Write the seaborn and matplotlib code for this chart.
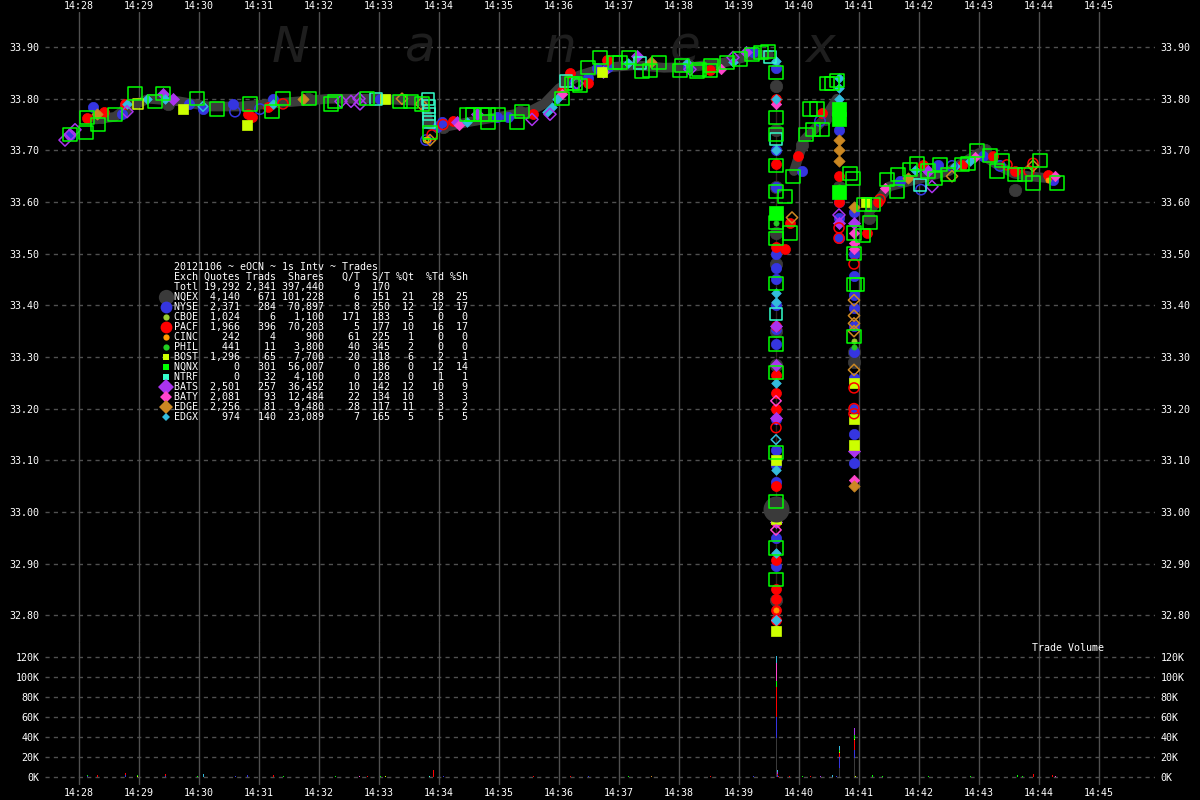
import matplotlib
matplotlib.use("Agg")
import matplotlib.pyplot as plt
import pandas as pd
import seaborn as sns

# ---------------------------------------------------------------- axis data
minute_labels = ["14:28", "14:29", "14:30", "14:31", "14:32", "14:33", "14:34", "14:35", "14:36",
                 "14:37", "14:38", "14:39", "14:40", "14:41", "14:42", "14:43", "14:44", "14:45"]
price_ticks = [32.80, 32.90, 33.00, 33.10, 33.20, 33.30, 33.40, 33.50, 33.60, 33.70, 33.80, 33.90]
volume_ticks = [0, 20000, 40000, 60000, 80000, 100000, 120000]
volume_labels = ["0K", "20K", "40K", "60K", "80K", "100K", "120K"]

# ---------------------------------------------------------------- summary table
table_title = "20121106 ~ eOCN ~ 1s Intv ~ Trades"
exch_names = ["NQEX", "NYSE", "CBOE", "PACF", "CINC", "PHIL", "BOST",
              "NQNX", "NTRF", "BATS", "BATY", "EDGE", "EDGX"]
quotes = [4140, 2371, 1024, 1966, 242, 441, 1296, 0, 0, 2501, 2081, 2256, 974]
trads = [671, 284, 6, 396, 4, 11, 65, 301, 32, 257, 93, 81, 140]
shares = [101228, 70897, 1100, 70203, 900, 3800, 7700, 56007, 4100, 36452, 12484, 9480, 23089]
q_per_t = [6, 8, 171, 5, 61, 40, 20, 0, 0, 10, 22, 28, 7]
s_per_t = [151, 250, 183, 177, 225, 345, 118, 186, 128, 142, 134, 117, 165]
pct_qt = [21, 12, 5, 10, 1, 2, 6, 0, 0, 12, 10, 11, 5]
pct_td = [28, 12, 0, 16, 0, 0, 2, 12, 1, 10, 3, 3, 5]
pct_sh = [25, 17, 0, 17, 0, 0, 1, 14, 1, 9, 3, 2, 5]
total = ("Totl", 19292, 2341, 397440, 9, 170)

# ---------------------------------------------------------------- trades ("MM:SS" of hour 14, price)
nqex = [("28:23", 33.765), ("28:46", 33.78), ("29:29", 33.79), ("31:11", 33.79), ("31:49", 33.80),
        ("34:04", 33.745), ("35:21", 33.775), ("36:07", 33.836), ("38:09", 33.865), ("39:37", 33.825),
        ("39:37", 33.74), ("39:37", 33.63), ("39:37", 33.54), ("39:37", 33.48), ("39:37", 33.35),
        ("39:37", 33.285), ("39:37", 32.83), ("40:03", 33.71), ("40:26", 33.76), ("40:40", 33.63),
        ("40:55", 33.31), ("40:55", 33.29), ("41:10", 33.57), ("43:06", 33.70), ("43:36", 33.624)]
nqex_block = [("39:37", 33.005)]
nyse = [("27:51", 33.73), ("28:14", 33.785), ("28:43", 33.77), ("29:50", 33.79), ("30:04", 33.78),
        ("30:34", 33.79), ("31:14", 33.80), ("33:01", 33.80), ("33:58", 33.745), ("34:03", 33.755),
        ("34:58", 33.765), ("35:09", 33.765), ("36:29", 33.84), ("36:38", 33.86), ("36:49", 33.862),
        ("38:09", 33.862), ("39:14", 33.89), ("39:37", 33.86), ("39:37", 33.70), ("39:37", 33.63),
        ("39:37", 33.58), ("39:37", 33.50), ("39:37", 33.472), ("39:37", 33.45), ("39:37", 33.40),
        ("39:37", 33.354), ("39:37", 33.325), ("39:37", 33.18), ("39:37", 33.12), ("39:37", 33.09),
        ("39:37", 33.057), ("39:37", 32.95), ("39:37", 32.895), ("40:03", 33.66), ("40:40", 33.74),
        ("40:40", 33.60), ("40:40", 33.57), ("40:40", 33.53), ("40:55", 33.58), ("40:55", 33.50),
        ("40:55", 33.456), ("40:55", 33.42), ("40:55", 33.395), ("40:55", 33.36), ("40:55", 33.31),
        ("40:55", 33.26), ("40:55", 33.20), ("40:55", 33.15), ("40:55", 33.095), ("41:41", 33.64),
        ("42:19", 33.672), ("43:04", 33.69), ("44:14", 33.643)]
nyse_open = [("30:36", 33.775), ("31:01", 33.78), ("33:47", 33.72), ("36:16", 33.83), ("40:21", 33.757),
             ("42:02", 33.624), ("42:33", 33.67), ("43:21", 33.67)]
pacf = [("28:08", 33.763), ("28:25", 33.774), ("28:46", 33.79), ("30:49", 33.77), ("30:53", 33.765),
        ("31:09", 33.785), ("34:14", 33.757), ("35:34", 33.77), ("36:03", 33.815), ("36:11", 33.85),
        ("36:29", 33.83), ("36:48", 33.875), ("38:31", 33.855), ("39:37", 33.80), ("39:37", 33.674),
        ("39:37", 33.579), ("39:37", 33.513), ("39:37", 33.36), ("39:37", 33.266), ("39:37", 33.23),
        ("39:37", 33.20), ("39:37", 33.05), ("39:37", 32.98), ("39:37", 32.906), ("39:37", 32.85),
        ("39:37", 32.832), ("39:37", 32.81), ("39:37", 32.79), ("39:46", 33.51), ("39:51", 33.56),
        ("39:59", 33.69), ("40:23", 33.772), ("40:40", 33.65), ("40:40", 33.60), ("41:08", 33.54),
        ("41:19", 33.60), ("42:04", 33.672), ("42:43", 33.672), ("43:14", 33.69), ("43:36", 33.66),
        ("44:09", 33.653)]
pacf_open = [("31:24", 33.79), ("33:53", 33.73), ("34:04", 33.75), ("39:37", 33.163), ("40:40", 33.55),
             ("40:40", 33.53), ("40:55", 33.48), ("40:55", 33.24), ("40:55", 33.20), ("40:55", 33.19),
             ("41:21", 33.605), ("43:28", 33.672), ("43:50", 33.66), ("43:54", 33.675)]
cboe = [("39:37", 33.10), ("39:37", 32.775), ("40:55", 33.33)]
cboe_open = [("33:47", 33.72)]
cinc = [("39:37", 32.81), ("44:09", 33.643)]
cinc_open = [("33:49", 33.72)]
phil = [("39:37", 33.56), ("40:40", 33.63), ("40:55", 33.32)]
bost = [("29:44", 33.78), ("30:48", 33.75), ("33:06", 33.80), ("36:43", 33.852), ("39:37", 33.10),
        ("39:37", 32.987), ("39:37", 32.77), ("40:55", 33.25), ("40:55", 33.18), ("40:55", 33.13),
        ("41:07", 33.60)]
bost_open = [("28:59", 33.79)]
nqnx = [("39:37", 33.579), ("40:40", 33.78), ("40:40", 33.76), ("40:40", 33.62)]
nqnx_open = [("27:51", 33.73), ("28:07", 33.735), ("28:08", 33.763), ("28:19", 33.75), ("28:36", 33.77),
             ("28:56", 33.81), ("29:16", 33.795), ("29:24", 33.81), ("29:58", 33.80), ("30:18", 33.78),
             ("30:51", 33.79), ("31:13", 33.775), ("31:24", 33.80), ("31:50", 33.80), ("32:12", 33.79),
             ("32:16", 33.795), ("32:48", 33.80), ("33:21", 33.795), ("33:32", 33.795), ("33:43", 33.79),
             ("33:51", 33.735), ("34:28", 33.77), ("34:34", 33.77), ("34:43", 33.77), ("34:49", 33.77),
             ("34:59", 33.77), ("34:49", 33.755), ("35:18", 33.755), ("35:23", 33.775), ("36:03", 33.80),
             ("36:13", 33.83), ("36:16", 33.83), ("36:21", 33.825), ("36:29", 33.86), ("36:41", 33.88),
             ("36:56", 33.87), ("37:01", 33.87), ("37:10", 33.88), ("37:23", 33.852), ("37:31", 33.855),
             ("37:40", 33.87), ("38:01", 33.855), ("38:03", 33.865), ("38:18", 33.852), ("38:20", 33.857),
             ("38:31", 33.855), ("38:32", 33.865), ("38:48", 33.87), ("39:01", 33.877), ("39:13", 33.885),
             ("39:22", 33.89), ("39:29", 33.892), ("39:37", 33.851), ("39:37", 33.763), ("39:37", 33.73),
             ("39:37", 33.67), ("39:37", 33.62), ("39:37", 33.56), ("39:37", 33.53), ("39:37", 33.443),
             ("39:37", 33.325), ("39:37", 33.27), ("39:37", 33.115), ("39:37", 33.02), ("39:37", 32.93),
             ("39:37", 32.869), ("39:46", 33.61), ("39:51", 33.54), ("39:54", 33.65), ("40:07", 33.73),
             ("40:11", 33.78), ("40:14", 33.74), ("40:18", 33.78), ("40:23", 33.74), ("40:28", 33.83),
             ("40:33", 33.83), ("40:38", 33.835), ("40:51", 33.655), ("40:54", 33.645), ("40:55", 33.54),
             ("40:55", 33.50), ("40:55", 33.44), ("40:55", 33.34), ("40:58", 33.44), ("41:04", 33.535),
             ("41:05", 33.595), ("41:11", 33.56), ("41:14", 33.595), ("41:28", 33.643), ("41:38", 33.62),
             ("41:39", 33.653), ("41:51", 33.663), ("41:58", 33.675), ("42:09", 33.66), ("42:16", 33.646),
             ("42:21", 33.672), ("42:29", 33.653), ("42:43", 33.672), ("42:49", 33.675), ("42:58", 33.70),
             ("43:11", 33.69), ("43:18", 33.66), ("43:23", 33.68), ("43:36", 33.653), ("43:46", 33.653),
             ("43:54", 33.637), ("44:01", 33.68), ("44:18", 33.637)]
ntrf_open = [("32:57", 33.80), ("33:49", 33.80), ("33:50", 33.785), ("33:50", 33.77), ("33:50", 33.755),
             ("36:07", 33.835), ("37:21", 33.87), ("39:31", 33.88), ("39:37", 33.722), ("39:37", 33.384),
             ("42:01", 33.633)]
bats = [("29:24", 33.81), ("29:34", 33.80), ("34:18", 33.755), ("34:38", 33.77), ("36:44", 33.852),
        ("37:18", 33.883), ("39:07", 33.89), ("39:37", 33.36), ("39:37", 33.285), ("39:37", 33.182),
        ("39:37", 32.98), ("40:40", 33.56), ("40:55", 33.56), ("40:55", 33.117), ("42:09", 33.66)]
bats_open = [("27:46", 33.72), ("27:51", 33.73), ("27:56", 33.74), ("28:48", 33.775), ("32:22", 33.795),
             ("32:32", 33.795), ("32:40", 33.80), ("32:41", 33.79), ("35:33", 33.76), ("35:51", 33.77),
             ("36:18", 33.83), ("38:11", 33.857), ("38:54", 33.88), ("40:40", 33.575), ("42:13", 33.63)]
baty = [("34:20", 33.75), ("36:03", 33.81), ("38:42", 33.857), ("39:37", 33.79), ("39:37", 32.79),
        ("40:55", 33.54), ("40:55", 33.52), ("40:55", 33.51), ("40:55", 33.062), ("41:26", 33.627),
        ("42:56", 33.688), ("44:16", 33.65)]
baty_open = [("39:37", 33.215), ("39:37", 32.965)]
edge = [("28:18", 33.77), ("31:44", 33.80), ("37:32", 33.871), ("40:40", 33.72), ("40:40", 33.70),
        ("40:40", 33.68), ("40:55", 33.59), ("40:55", 33.05), ("41:49", 33.647)]
edge_open = [("33:23", 33.80), ("33:42", 33.79), ("33:51", 33.72), ("39:53", 33.57), ("40:55", 33.41),
             ("40:55", 33.38), ("40:55", 33.365), ("40:55", 33.35), ("40:55", 33.275), ("42:33", 33.65),
             ("43:54", 33.67)]
edgx = [("28:48", 33.79), ("29:08", 33.80), ("29:26", 33.80), ("31:14", 33.79), ("34:28", 33.755),
        ("35:48", 33.775), ("35:53", 33.785), ("35:58", 33.80), ("37:09", 33.87), ("38:08", 33.87),
        ("38:54", 33.871), ("39:37", 33.873), ("39:37", 33.80), ("39:37", 33.70), ("39:37", 33.424),
        ("39:37", 33.406), ("39:37", 33.25), ("39:37", 33.082), ("39:37", 32.92), ("39:37", 32.79),
        ("40:40", 33.84), ("40:40", 33.82), ("40:40", 33.80), ("40:40", 33.79), ("41:56", 33.663),
        ("42:36", 33.67), ("42:51", 33.68)]
edgx_open = [("30:04", 33.785), ("39:37", 33.14)]

# thick grey price track, split into segments
track_t = ["28:17", "28:36", "28:50", "29:10", "29:40", "30:10", "30:40", "31:10", "31:40", "32:10",
           "33:00", "33:45", "33:50", "34:05", "34:30", "35:00", "35:30", "35:45", "36:00", "36:20",
           "36:45", "37:15", "37:45", "38:15", "38:45", "39:15", "39:30",
           "39:55", "40:05", "40:25", "40:38",
           "41:10", "41:30", "42:00", "42:30", "43:00", "43:20", "43:35", "43:50", "44:15"]
track_p = [33.76, 33.765, 33.785, 33.80, 33.795, 33.785, 33.785, 33.79, 33.795, 33.80,
           33.80, 33.795, 33.75, 33.745, 33.755, 33.765, 33.775, 33.79, 33.82, 33.845,
           33.86, 33.865, 33.86, 33.862, 33.87, 33.885, 33.885,
           33.66, 33.72, 33.76, 33.80,
           33.58, 33.63, 33.645, 33.66, 33.695, 33.67, 33.655, 33.65, 33.645]
track_seg = [0] * 27 + [1] * 4 + [2] * 9

# thin line through the crash prints
crash_t = ["39:37", "39:37"]
crash_p = [33.78, 32.76]

# ---------------------------------------------------------------- volume per second
vol_time = ["39:37", "39:37", "39:37", "39:37", "39:37", "39:37",
            "39:38", "39:38", "39:38", "39:38", "39:39", "39:39",
            "40:40", "40:40", "40:40", "40:40", "40:40", "40:40",
            "40:55", "40:55", "40:55", "40:55", "40:55", "40:55",
            "27:49", "27:55", "28:02", "28:08", "28:08", "28:18", "28:34", "28:46", "28:46", "28:58",
            "28:58", "29:10", "29:26", "29:26", "29:32", "29:43", "29:58", "30:04", "30:36", "30:48",
            "31:10", "31:14", "31:24", "31:44", "31:50", "32:16", "32:32", "32:40", "32:48", "33:01",
            "33:06", "33:50", "33:54", "34:04", "35:34", "36:11", "36:29", "37:09", "37:32", "38:31",
            "39:14", "39:50", "40:03", "40:11", "40:21", "40:33", "40:37", "40:56", "41:13", "41:23",
            "42:09", "42:51", "43:38", "43:43", "43:54", "44:13", "44:16"]
vol_exch = ["NQEX", "NYSE", "PACF", "NQNX", "BATY", "EDGX",
            "NYSE", "PACF", "BATS", "EDGX", "PACF", "NQNX",
            "NQEX", "NYSE", "PACF", "BOST", "NQNX", "EDGX",
            "NQEX", "NYSE", "PACF", "BOST", "NQNX", "BATS",
            "BATS", "NQNX", "BATY", "NQNX", "NYSE", "PACF", "NQNX", "NYSE", "PACF", "NQNX",
            "BOST", "NQNX", "PACF", "NYSE", "BATS", "BOST", "NQNX", "EDGX", "NYSE", "NYSE",
            "PACF", "PACF", "NQNX", "EDGE", "NQNX", "NQNX", "BATS", "BATY", "PACF", "NQNX",
            "BOST", "NTRF", "PACF", "NYSE", "PACF", "PACF", "NYSE", "NQNX", "EDGE", "PACF",
            "NYSE", "PACF", "NQNX", "PACF", "BATS", "EDGX", "NYSE", "BOST", "NQNX", "NQNX",
            "NQNX", "NQNX", "NQNX", "NQNX", "PACF", "PACF", "BATY"]
vol_shares = [39000, 20700, 30300, 5700, 18300, 7300,
              2000, 1500, 2000, 1500, 800, 600,
              9000, 11000, 4500, 1000, 1500, 4000,
              19000, 8000, 10000, 1500, 3500, 7000,
              400, 300, 500, 1200, 600, 2000, 500, 2000, 1800, 1500,
              800, 400, 1800, 1000, 500, 500, 600, 3000, 600, 1800,
              500, 2200, 600, 400, 500, 600, 500, 700, 600, 700,
              700, 600, 7000, 800, 1000, 800, 1200, 1000, 600, 700,
              600, 1000, 900, 1000, 600, 2000, 800, 1500, 2000, 800,
              600, 1000, 2000, 600, 3000, 2000, 600]

# ---------------------------------------------------------------- styles
style = {
    "NQEX": ("o", 80, "#3a3a3a"),
    "NYSE": ("o", 55, "#3535e0"),
    "CBOE": ("o", 14, "#99cc33"),
    "PACF": ("o", 52, "#ff0000"),
    "CINC": ("o", 14, "#ff9900"),
    "PHIL": ("o", 14, "#22cc22"),
    "BOST": ("s", 45, "#ccff00"),
    "NQNX": ("s", 90, "#00ff00"),
    "NTRF": ("s", 75, "#33ffcc"),
    "BATS": ("D", 38, "#aa33ee"),
    "BATY": ("D", 28, "#ff44cc"),
    "EDGE": ("D", 33, "#cc8822"),
    "EDGX": ("D", 24, "#33bbdd"),
}
legend_size = {"NQEX": 11, "NYSE": 8.5, "CBOE": 4.5, "PACF": 8.5, "CINC": 4.5, "PHIL": 4.5,
               "BOST": 4.5, "NQNX": 4.5, "NTRF": 4.5, "BATS": 8, "BATY": 6.5, "EDGE": 7.5, "EDGX": 4.5}

series = [("NQEX", nqex, []), ("NYSE", nyse, nyse_open), ("PACF", pacf, pacf_open),
          ("BATS", bats, bats_open), ("BATY", baty, baty_open), ("EDGE", edge, edge_open),
          ("EDGX", edgx, edgx_open), ("CBOE", cboe, cboe_open), ("CINC", cinc, cinc_open),
          ("PHIL", phil, []), ("BOST", bost, bost_open), ("NTRF", [], ntrf_open),
          ("NQNX", nqnx, nqnx_open)]


def clock(times):
    return [int(t[:2]) * 60 + int(t[3:]) for t in times]


def frame(points):
    return pd.DataFrame({"sec": clock([t for t, _ in points]), "price": [p for _, p in points]})


sns.set_theme(style="dark")
plt.rcParams["font.family"] = ["DejaVu Sans Mono", "DejaVu Sans"]
grid_col = "#505050"

fig = plt.figure(figsize=(12, 8), dpi=100, facecolor="black")
ax1 = fig.add_axes([45 / 1200, 1 - 642 / 800, 1110 / 1200, 630 / 800])
ax2 = fig.add_axes([45 / 1200, 1 - 785 / 800, 1110 / 1200, 143 / 800], sharex=ax1)

# grey track and crash line
track = pd.DataFrame({"sec": clock(track_t), "price": track_p, "seg": track_seg})
sns.lineplot(data=track, x="sec", y="price", units="seg", estimator=None, sort=False,
             color="#3c3c3c", linewidth=7, ax=ax1, legend=False, zorder=2)
crash = pd.DataFrame({"sec": clock(crash_t), "price": crash_p})
sns.lineplot(data=crash, x="sec", y="price", sort=False, color="#ffaaaa",
             linewidth=1, ax=ax1, legend=False, zorder=2)

for name, filled, hollow in series:
    marker, size, color = style[name]
    if filled:
        sns.scatterplot(data=frame(filled), x="sec", y="price", ax=ax1, marker=marker, s=size,
                        color=color, edgecolor=color, linewidth=0.5, legend=False, zorder=3)
    if hollow:
        sns.scatterplot(data=frame(hollow), x="sec", y="price", ax=ax1, marker=marker, s=size,
                        facecolor="none", edgecolor=color, linewidth=1.1, legend=False, zorder=4)
sns.scatterplot(data=frame(nqex_block), x="sec", y="price", ax=ax1, marker="o", s=300,
                color=style["NQEX"][2], edgecolor=style["NQEX"][2], legend=False, zorder=3)

# volume bars, stacked with NQEX at the bottom
vol = pd.DataFrame({"sec": clock(vol_time), "exch": vol_exch, "shares": vol_shares})
sns.histplot(data=vol, x="sec", weights="shares", hue="exch", hue_order=exch_names[::-1],
             palette={k: v[2] for k, v in style.items()}, multiple="stack", discrete=True,
             shrink=1, element="bars", linewidth=0, alpha=1, legend=False, ax=ax2)
for patch in ax2.patches:
    patch.set_antialiased(False)

minute_pos = [int(m[3:]) * 60 for m in minute_labels]
for ax in (ax1, ax2):
    ax.set_facecolor("black")
    for s in ax.spines.values():
        s.set_visible(False)
    ax.set_axisbelow(True)
    ax.grid(False)
    for p in minute_pos:
        ax.axvline(p, color=grid_col, linewidth=1, zorder=0)
    ax.set_xlabel("")
    ax.set_ylabel("")
    ax.tick_params(length=0, colors="white", labelsize=7.2)

ax1.set_xlim(1646, 2756)
ax1.set_xticks(minute_pos, minute_labels)
ax1.set_ylim(32.748, 33.968)
ax1.set_yticks(price_ticks, [f"{v:.2f}" for v in price_ticks])
for v in price_ticks:
    ax1.axhline(v, color=grid_col, linewidth=1, linestyle=(0, (3, 3)), zorder=0)
ax1.tick_params(axis="x", top=True, labeltop=True, bottom=False, labelbottom=False, pad=1)
ax1.tick_params(axis="y", labelleft=True, labelright=True, pad=4)

ax2.set_ylim(-8000, 135000)
ax2.set_yticks(volume_ticks, volume_labels)
for v in volume_ticks:
    ax2.axhline(v, color=grid_col, linewidth=1, linestyle=(0, (3, 3)), zorder=0)
ax2.tick_params(axis="x", labelbottom=True, pad=2)
ax2.tick_params(axis="y", labelleft=True, labelright=True, pad=4)
ax2.text(0.889, 0.958, "Trade Volume", transform=ax2.transAxes, color="white",
         fontsize=7.2, ha="left", va="center")

# watermark
for letter, xf in zip("Nanex", [0.221, 0.338, 0.464, 0.577, 0.698]):
    ax1.text(xf, 0.921, letter, transform=ax1.transAxes, fontsize=36, style="italic",
             color="#1e1e1e", family="DejaVu Sans", ha="center", va="baseline", zorder=1)

# summary table
rows = [table_title,
        f"{'Exch':<4}{'Quotes':>7}{'Trads':>6}{'Shares':>8}{'Q/T':>6}{'S/T':>5}{'%Qt':>4}{'%Td':>5}{'%Sh':>4}",
        f"{total[0]:<4}{total[1]:>7,}{total[2]:>6,}{total[3]:>8,}{total[4]:>6}{total[5]:>5}"]
for i, n in enumerate(exch_names):
    rows.append(f"{n:<4}{quotes[i]:>7,}{trads[i]:>6,}{shares[i]:>8,}{q_per_t[i]:>6}"
                f"{s_per_t[i]:>5}{pct_qt[i]:>4}{pct_td[i]:>5}{pct_sh[i]:>4}")
for i, r in enumerate(rows):
    fig.text(174 / 1200, 1 - (266.7 + 10 * i) / 800, r, color="white", fontsize=7.2,
             ha="left", va="center")
for i, n in enumerate(exch_names):
    marker, _, color = style[n]
    ax1.plot([166 / 1200], [1 - (296.7 + 10 * i) / 800], marker=marker, color=color,
             markersize=legend_size[n], markeredgewidth=0, transform=fig.transFigure,
             clip_on=False, zorder=6)

fig.savefig("out.png", dpi=100, facecolor="black")
